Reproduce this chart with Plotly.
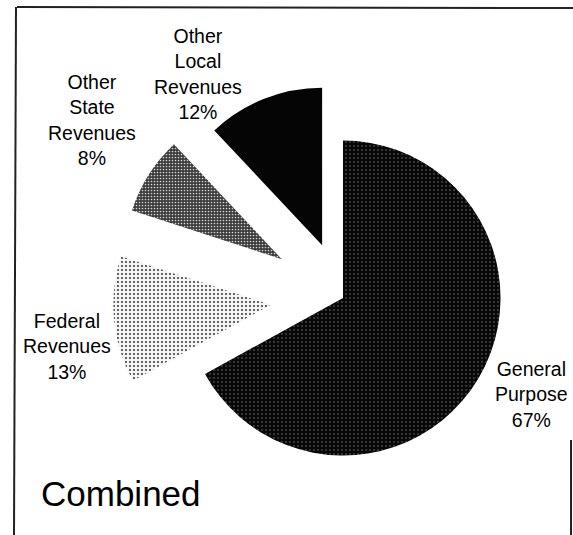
import plotly.graph_objects as go

labels = ["General Purpose", "Federal Revenues", "Other State Revenues", "Other Local Revenues"]
label_lines = [["General", "Purpose"], ["Federal", "Revenues"], ["Other", "State", "Revenues"], ["Other", "Local", "Revenues"]]
values = [67, 13, 8, 12]
pulls = [0.0, 0.46, 0.46, 0.36]
colors = ["#161616", "#d9d9d9", "#5a5a5a", "#050505"]
title_text = "Combined"

W, H = 573, 535

fig = go.Figure()
fig.add_trace(go.Pie(
    labels=labels,
    values=values,
    sort=False,
    direction="clockwise",
    rotation=0,
    pull=pulls,
    textinfo="none",
    hoverinfo="label+percent",
    showlegend=False,
    domain=dict(x=[0.1972, 1.0], y=[0.0, 0.886]),
    marker=dict(
        colors=colors,
        line=dict(width=0),
        pattern=dict(
            shape=[".", ".", ".", ""],
            fgcolor=["#7a7a7a", "#1e1e1e", "#d0d0d0", "#000000"],
            bgcolor=["#080808", "#f4f4f4", "#3a3a3a", "#050505"],
            size=[4, 4, 3, 4],
            solidity=[0.1, 0.16, 0.25, 0.1],
            fillmode="replace",
        ),
    ),
))

# label positions (paper pixels, centre of text block)
label_pos = [(531, 394), (67, 346), (92, 120), (198, 74)]
font = dict(family="Liberation Sans, Arial, sans-serif", size=19.5, color="#000000")
annotations = []
for lines, v, (px, py) in zip(label_lines, values, label_pos):
    annotations.append(dict(
        text="<br>".join(lines + [f"{v}%"]),
        x=px / W, y=1 - py / H, xref="paper", yref="paper",
        xanchor="center", yanchor="middle", showarrow=False,
        align="center", font=font,
    ))
annotations.append(dict(
    text=title_text, x=39 / W, y=1 - 493 / H, xref="paper", yref="paper",
    xanchor="left", yanchor="middle", showarrow=False,
    font=dict(family="Liberation Sans, Arial, sans-serif", size=35, color="#000000"),
))

shapes = [
    dict(type="line", xref="paper", yref="paper", x0=17 / W, x1=1.0, y0=1 - 7 / H, y1=1 - 8 / H,
         line=dict(color="#222222", width=2)),
    dict(type="line", xref="paper", yref="paper", x0=16 / W, x1=14 / W, y0=1 - 7 / H, y1=0.0,
         line=dict(color="#222222", width=2)),
    dict(type="line", xref="paper", yref="paper", x0=571 / W, x1=571 / W, y0=1 - 440 / H, y1=0.0,
         line=dict(color="#222222", width=2)),
]

fig.update_layout(
    width=W, height=H,
    margin=dict(l=0, r=0, t=0, b=0),
    paper_bgcolor="white", plot_bgcolor="white",
    annotations=annotations, shapes=shapes,
)

fig.write_html("out.html")
